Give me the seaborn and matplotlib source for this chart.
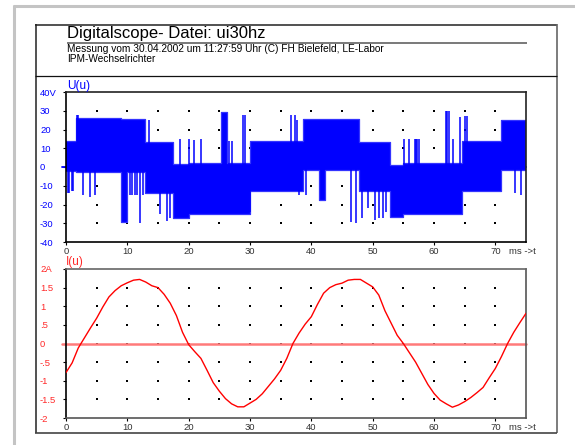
import numpy as np
import pandas as pd
import matplotlib
matplotlib.use("Agg")
import matplotlib.pyplot as plt
import seaborn as sns
from matplotlib.lines import Line2D

# ---------------- data ----------------
# U(u): PWM voltage, described as step envelope segments (start ms, upper V, lower V)
u_seg_start = [0.0, 1.7, 9.0, 10.0, 12.8, 17.5, 20.0, 25.2, 26.2, 30.0,
               38.7, 41.3, 42.2, 47.7, 52.8, 55.0, 64.6, 71.0]
u_seg_upper = [14, 26, 25.5, 25.5, 13.5, 1.5, 2, 29.5, 2, 14,
               25.5, 25.5, 25.5, 13.5, 1, 2, 14, 25]
u_seg_lower = [-2, -2.5, -29.5, -2.5, -14, -27, -25, -25, -25, -13,
               -1.5, -17.5, -1.5, -13, -26.5, -25, -13, -1.5]
u_end = 75.0

# single switching spikes (time ms, top V, bottom V)
u_spike_t = [1.8, 2.0, 13.6, 18.6, 20.1, 20.8, 22.0, 26.6, 27.0, 28.9, 29.2,
             36.7, 37.3, 37.6, 55.05, 55.9, 56.9, 57.1, 57.3, 57.6,
             62.0, 62.2, 62.5, 63.1, 64.2, 65.0, 65.3,
             0.4, 0.5, 1.0, 1.2, 2.8, 3.9, 4.7, 10.4, 10.8, 11.2, 11.6, 12.0, 12.6,
             15.3, 16.4, 17.0, 30.0, 38.0, 39.1, 46.4, 47.3, 48.3, 49.3, 50.3,
             51.1, 51.7, 52.2, 73.2, 74.2]
u_spike_top = [28, 28, 25, 15, 15, 14.5, 15, 14, 14, 27.5, 27.5,
               28, 28, 25, 15, 15, 15, 15, 15, 15,
               30, 30, 30, 15, 26.5, 27, 27,
               0, 0, 0, 0, 0, 0, 0, 0, 0, 0, 0, 0, 0,
               0, 0, 0, 0, 0, 0, 0, 0, 0, 0, 0,
               0, 0, 0, 0, 0]
u_spike_bottom = [0, 0, 0, 0, 0, 0, 0, 0, 0, 0, 0,
                  0, 0, 0, 0, 0, 0, 0, 0, 0,
                  0, 0, 0, 0, 0, 0, 0,
                  -14, -14, -13, -13, -15, -16, -15, -15, -15, -15, -15, -30, -15,
                  -25, -29, -27, -24, -15, -15, -29.5, -30, -27, -22, -28,
                  -27, -27, -24, -14, -15]

# I(u): current, read every 1 ms
i_t = list(range(76))
i_val = [-0.78, -0.52, -0.12, 0.15, 0.42, 0.68, 0.98, 1.25, 1.42, 1.55,
         1.63, 1.70, 1.72, 1.65, 1.55, 1.50, 1.32, 1.08, 0.75, 0.30,
         -0.03, -0.22, -0.40, -0.72, -1.05, -1.28, -1.48, -1.62, -1.70, -1.70,
         -1.60, -1.50, -1.35, -1.15, -0.95, -0.72, -0.40, 0.00, 0.28, 0.52,
         0.72, 1.05, 1.35, 1.50, 1.58, 1.62, 1.70, 1.72, 1.72, 1.62,
         1.52, 1.30, 0.88, 0.55, 0.22, 0.00, -0.25, -0.50, -0.80, -1.10,
         -1.34, -1.52, -1.62, -1.71, -1.65, -1.56, -1.45, -1.32, -1.18, -0.92,
         -0.67, -0.35, 0.00, 0.30, 0.56, 0.81]

u_ticks = [40, 30, 20, 10, 0, -10, -20, -30, -40]
u_ticklabels = ["40V", "30", "20", "10", "0", "-10", "-20", "-30", "-40"]
i_ticks = [2, 1.5, 1, 0.5, 0, -0.5, -1, -1.5, -2]
i_ticklabels = ["2A", "1.5", "1", ".5", "0", "-.5", "-1", "-1.5", "-2"]
x_ticks = [0, 10, 20, 30, 40, 50, 60, 70]
x_ticklabels = ["0", "10", "20", "30", "40", "50", "60", "70"]

title = "Digitalscope- Datei: ui30hz"
subtitle1 = "Messung vom 30.04.2002 um 11:27:59 Uhr (C) FH Bielefeld, LE-Labor"
subtitle2 = "IPM-Wechselrichter"

# ---------------- style ----------------
sns.set_style("white")
plt.rcParams["font.family"] = ["Liberation Sans", "DejaVu Sans"]

W, H = 575, 445
fig = plt.figure(figsize=(W / 100, H / 100), dpi=100)
fig.patch.set_facecolor("white")


def fx(px):
    return px / W


def fy(py):
    return 1 - py / H


def hline(x0, x1, y, color, lw):
    fig.add_artist(Line2D([fx(x0), fx(x1)], [fy(y), fy(y)], color=color, lw=lw,
                          transform=fig.transFigure, solid_capstyle="butt"))


def vline(x, y0, y1, color, lw):
    fig.add_artist(Line2D([fx(x), fx(x)], [fy(y0), fy(y1)], color=color, lw=lw,
                          transform=fig.transFigure, solid_capstyle="butt"))


# outer grey window edge
hline(13, 575, 6, "#c4c4c4", 2.2)
vline(14, 5, 445, "#c4c4c4", 2.2)
# inner frame
hline(35, 557, 24.5, "#222222", 1.1)
vline(35.5, 24, 433, "#222222", 1.1)
vline(557, 24, 433, "#666666", 1.2)
hline(35, 557, 433, "#444444", 1.2)
hline(35, 557, 75.5, "#111111", 0.9)
# title underline
hline(67, 527, 42.5, "#555555", 1.1)

fig.text(fx(67), fy(38), title, fontsize=12, color="black", va="baseline", ha="left")
fig.text(fx(67), fy(52), subtitle1, fontsize=7.3, color="black", va="baseline", ha="left")
fig.text(fx(67), fy(61.5), subtitle2, fontsize=7.3, color="black", va="baseline", ha="left")

ax1 = fig.add_axes([fx(66), fy(242), 460 / W, 150 / H])
ax2 = fig.add_axes([fx(66), fy(418), 460 / W, 149 / H])

BLUE = "#0000ff"
RED = "#ff0000"

# ---------------- U(u) ----------------
seg_t = u_seg_start + [u_end]
seg_up = u_seg_upper + [u_seg_upper[-1]]
seg_lo = u_seg_lower + [u_seg_lower[-1]]
ax1.plot([-0.7, 75], [0, 0], color=BLUE, lw=1.3, clip_on=False, zorder=1)
ax1.fill_between(seg_t, seg_lo, seg_up, step="post", color=BLUE, lw=0, zorder=2)
env = pd.DataFrame({"t": seg_t, "up": seg_up, "lo": seg_lo})
sns.lineplot(data=env, x="t", y="up", ax=ax1, color="#3333ff", lw=0.9,
             drawstyle="steps-post", sort=False, zorder=2)
sns.lineplot(data=env, x="t", y="lo", ax=ax1, color="#3333ff", lw=0.9,
             drawstyle="steps-post", sort=False, zorder=2)
ax1.vlines(u_spike_t, u_spike_bottom, u_spike_top, color=BLUE, lw=1.1, zorder=2)

# ---------------- I(u) ----------------
ax2.plot([-0.7, 75], [0, 0], color="#ff7a7a", lw=1.8, clip_on=False, zorder=1)
cur = pd.DataFrame({"t": i_t, "i": i_val})
sns.lineplot(data=cur, x="t", y="i", ax=ax2, color=RED, lw=1.0, zorder=3)

# ---------------- axes cosmetics ----------------
gx = [5 * k for k in range(1, 15)]
for ax, yt, ylab, ycol, ylim, gy in [
        (ax1, u_ticks, u_ticklabels, BLUE, (-40, 40), [30, 20, 10, 0, -10, -20, -30]),
        (ax2, i_ticks, i_ticklabels, "#ff2a2a", (-2, 2), [1.5, 1, 0.5, 0, -0.5, -1, -1.5])]:
    ax.set_xlim(0, 75)
    ax.set_ylim(*ylim)
    ax.set_xlabel("")
    ax.set_ylabel("")
    ax.set_facecolor("white")
    GX, GY = np.meshgrid(gx, gy)
    ax.scatter(GX.ravel(), GY.ravel(), s=1.3, marker="s", color="black", lw=0, zorder=0.5)
    ax.set_yticks(yt)
    ax.set_yticklabels(ylab)
    ax.set_xticks(x_ticks)
    ax.set_xticklabels(x_ticklabels)
    ax.tick_params(axis="y", direction="out", length=2.2, width=0.8, color="black",
                   labelcolor=ycol, labelsize=6.8, pad=16.5, left=True)
    ax.tick_params(axis="x", direction="out", length=2.2, width=0.8, color="black",
                   labelcolor="#333333", labelsize=6.8, pad=1.5, bottom=True)
    for lab in ax.get_yticklabels():
        lab.set_horizontalalignment("left")
    for side in ["left", "bottom", "top", "right"]:
        ax.spines[side].set_visible(True)
        ax.spines[side].set_linewidth(1.2)
    ax.spines["left"].set_color("black")

ax1.spines["bottom"].set_color("black")
ax1.spines["top"].set_color("#222222")
ax1.spines["right"].set_color("#222222")
ax2.spines["bottom"].set_color("#555555")
ax2.spines["top"].set_color("#666666")
ax2.spines["right"].set_color("#555555")

fig.text(fx(67), fy(89), "U(u)", fontsize=8.5, color=BLUE, va="baseline", ha="left")
fig.text(fx(66), fy(265), "I(u)", fontsize=8.5, color="#ff2a2a", va="baseline", ha="left")
fig.text(fx(509), fy(254), "ms ->t", fontsize=6.8, color="#333333", va="baseline", ha="left")
fig.text(fx(509), fy(430), "ms ->t", fontsize=6.8, color="#333333", va="baseline", ha="left")

fig.savefig("out.png", dpi=100, facecolor="white")
